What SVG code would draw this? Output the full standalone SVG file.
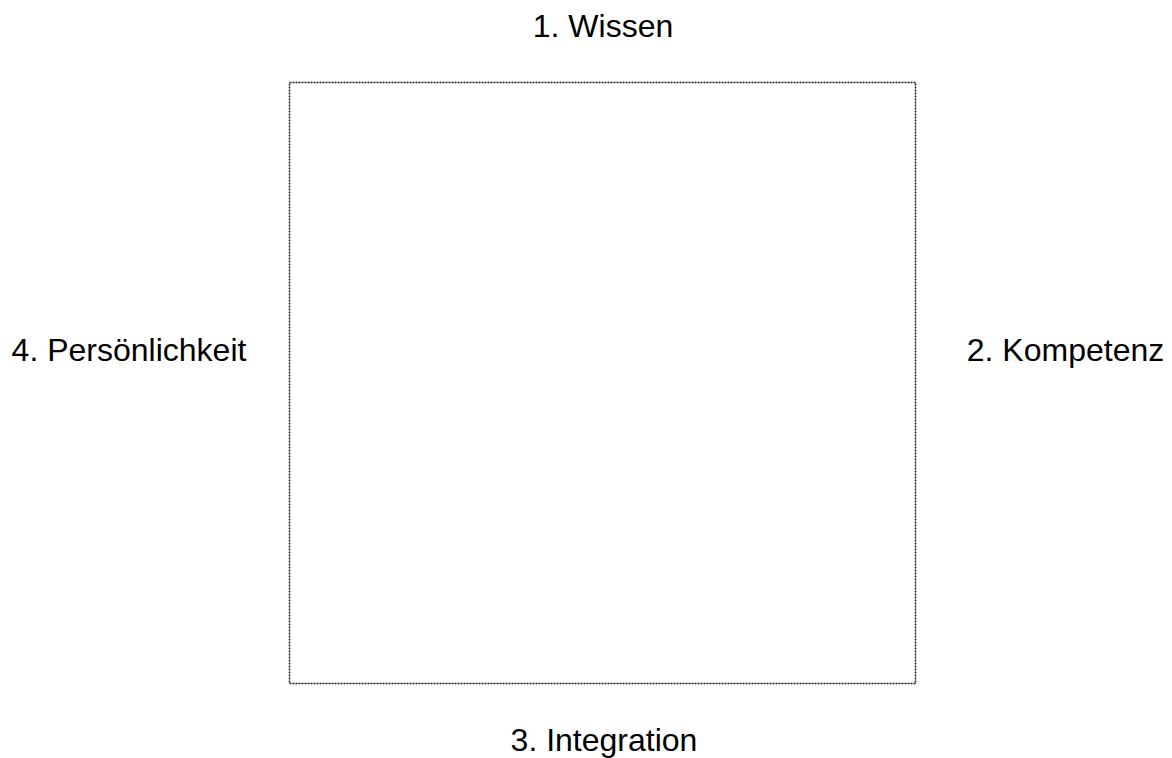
<svg xmlns="http://www.w3.org/2000/svg" width="1172" height="758" viewBox="0 0 1172 758">
<style>
.lbl{font-family:"Liberation Sans",Arial,sans-serif;font-size:32px;fill:#000;text-anchor:middle}
.box{fill:none;stroke:#1a1a1a;stroke-width:1.5;stroke-dasharray:2 1}
</style>
<rect width="1172" height="758" fill="#fff"/>
<g id="frame"><rect class="box" x="289.5" y="82.5" width="626" height="601"/></g>
<g id="n1"><text class="lbl" x="603" y="37">1. Wissen</text></g>
<g id="n2"><text class="lbl" x="1065.5" y="361">2. Kompetenz</text></g>
<g id="n3"><text class="lbl" x="604" y="751">3. Integration</text></g>
<g id="n4"><text class="lbl" x="129" y="361">4. Persönlichkeit</text></g>
<g id="connectors"></g>
</svg>
